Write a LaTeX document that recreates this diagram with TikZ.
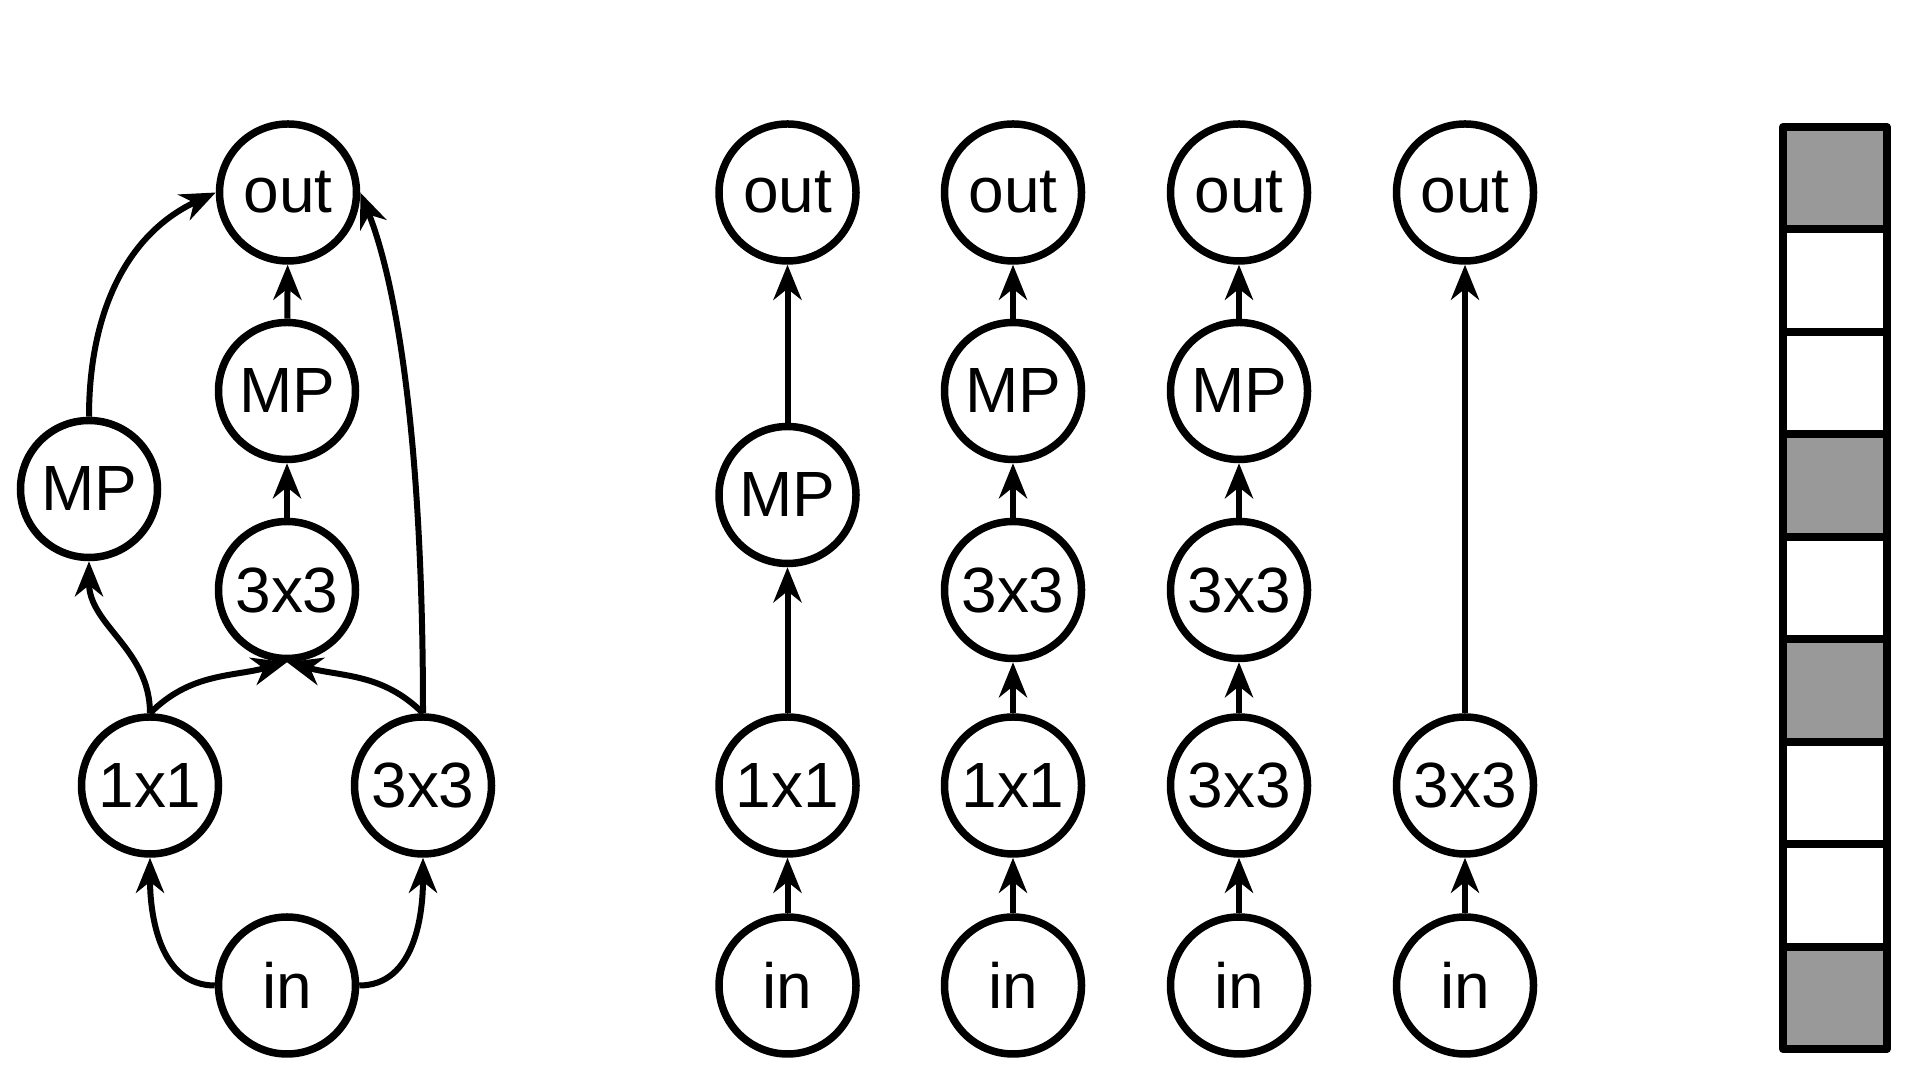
\documentclass[tikz,border=0pt]{standalone}
\usepackage{fontspec}
\setmainfont{Liberation Sans}
\usetikzlibrary{arrows.meta}
\definecolor{cellgray}{HTML}{999999}
\tikzset{
  op/.style={draw, circle, line width=0.75mm, minimum size=13.7mm, inner sep=0pt,
    font=\fontsize{18.2}{21}\selectfont},
  link/.style={line width=0.6mm, -{Stealth[length=3.5mm,width=2.8mm,inset=1.1mm]}},
  cell/.style={line width=0.8mm, line join=round},
}
\begin{document}
\begin{tikzpicture}
\useasboundingbox (0,0) rectangle (19.2,10.8);

% full cell
\node[op] (gin) at (2.87,0.945) {in};
\node[op] (gx1) at (1.50,2.945) {1x1};
\node[op] (gr3) at (4.23,2.945) {3x3};
\node[op] (gc3) at (2.87,4.90) {3x3};
\node[op] (glmp) at (0.89,5.91) {MP};
\node[op] (gmp) at (2.87,6.89) {MP};
\node[op] (gout) at (2.88,8.875) {out};

\draw[link] (gin) to[out=180,in=-90] (gx1);
\draw[link] (gin) to[out=0,in=-90] (gr3);
\draw[link] (gx1.north) to[out=90,in=-90] (glmp);
\draw[link] (gx1.north) to[out=45,in=195] (gc3.south);
\draw[link] (gr3.north) to[out=135,in=-15] (gc3.south);
\draw[link] (gc3) -- (gmp);
\draw[link] (gmp) -- (gout);
\draw[link] (glmp.north) to[out=90,in=205] (gout.west);
\draw[link] (gr3.north) .. controls +(0,3.2) and +(0.27,-0.67) .. (gout.east);

% paths
\node[op] (ain) at (7.875,0.945) {in};
\node[op] (ax1) at (7.875,2.945) {1x1};
\node[op] (amp) at (7.875,5.85) {MP};
\node[op] (aout) at (7.875,8.875) {out};
\draw[link] (ain) -- (ax1);
\draw[link] (ax1) -- (amp);
\draw[link] (amp) -- (aout);

\node[op] (bin) at (10.13,0.945) {in};
\node[op] (bx1) at (10.13,2.945) {1x1};
\node[op] (b3) at (10.13,4.90) {3x3};
\node[op] (bmp) at (10.13,6.89) {MP};
\node[op] (bout) at (10.13,8.875) {out};
\draw[link] (bin) -- (bx1);
\draw[link] (bx1) -- (b3);
\draw[link] (b3) -- (bmp);
\draw[link] (bmp) -- (bout);

\node[op] (cin) at (12.39,0.945) {in};
\node[op] (c3a) at (12.39,2.945) {3x3};
\node[op] (c3b) at (12.39,4.90) {3x3};
\node[op] (cmp) at (12.39,6.89) {MP};
\node[op] (cout) at (12.39,8.875) {out};
\draw[link] (cin) -- (c3a);
\draw[link] (c3a) -- (c3b);
\draw[link] (c3b) -- (cmp);
\draw[link] (cmp) -- (cout);

\node[op] (din) at (14.65,0.945) {in};
\node[op] (d3) at (14.65,2.945) {3x3};
\node[op] (dout) at (14.65,8.875) {out};
\draw[link] (din) -- (d3);
\draw[link] (d3) -- (dout);

% encoding
\draw[cell, fill=cellgray] (17.83,8.506) rectangle (18.87,9.53);
\draw[cell] (17.83,7.481) rectangle (18.87,8.506);
\draw[cell] (17.83,6.457) rectangle (18.87,7.481);
\draw[cell, fill=cellgray] (17.83,5.432) rectangle (18.87,6.457);
\draw[cell] (17.83,4.408) rectangle (18.87,5.432);
\draw[cell, fill=cellgray] (17.83,3.383) rectangle (18.87,4.408);
\draw[cell] (17.83,2.359) rectangle (18.87,3.383);
\draw[cell] (17.83,1.334) rectangle (18.87,2.359);
\draw[cell, fill=cellgray] (17.83,0.31) rectangle (18.87,1.334);

\end{tikzpicture}
\end{document}
